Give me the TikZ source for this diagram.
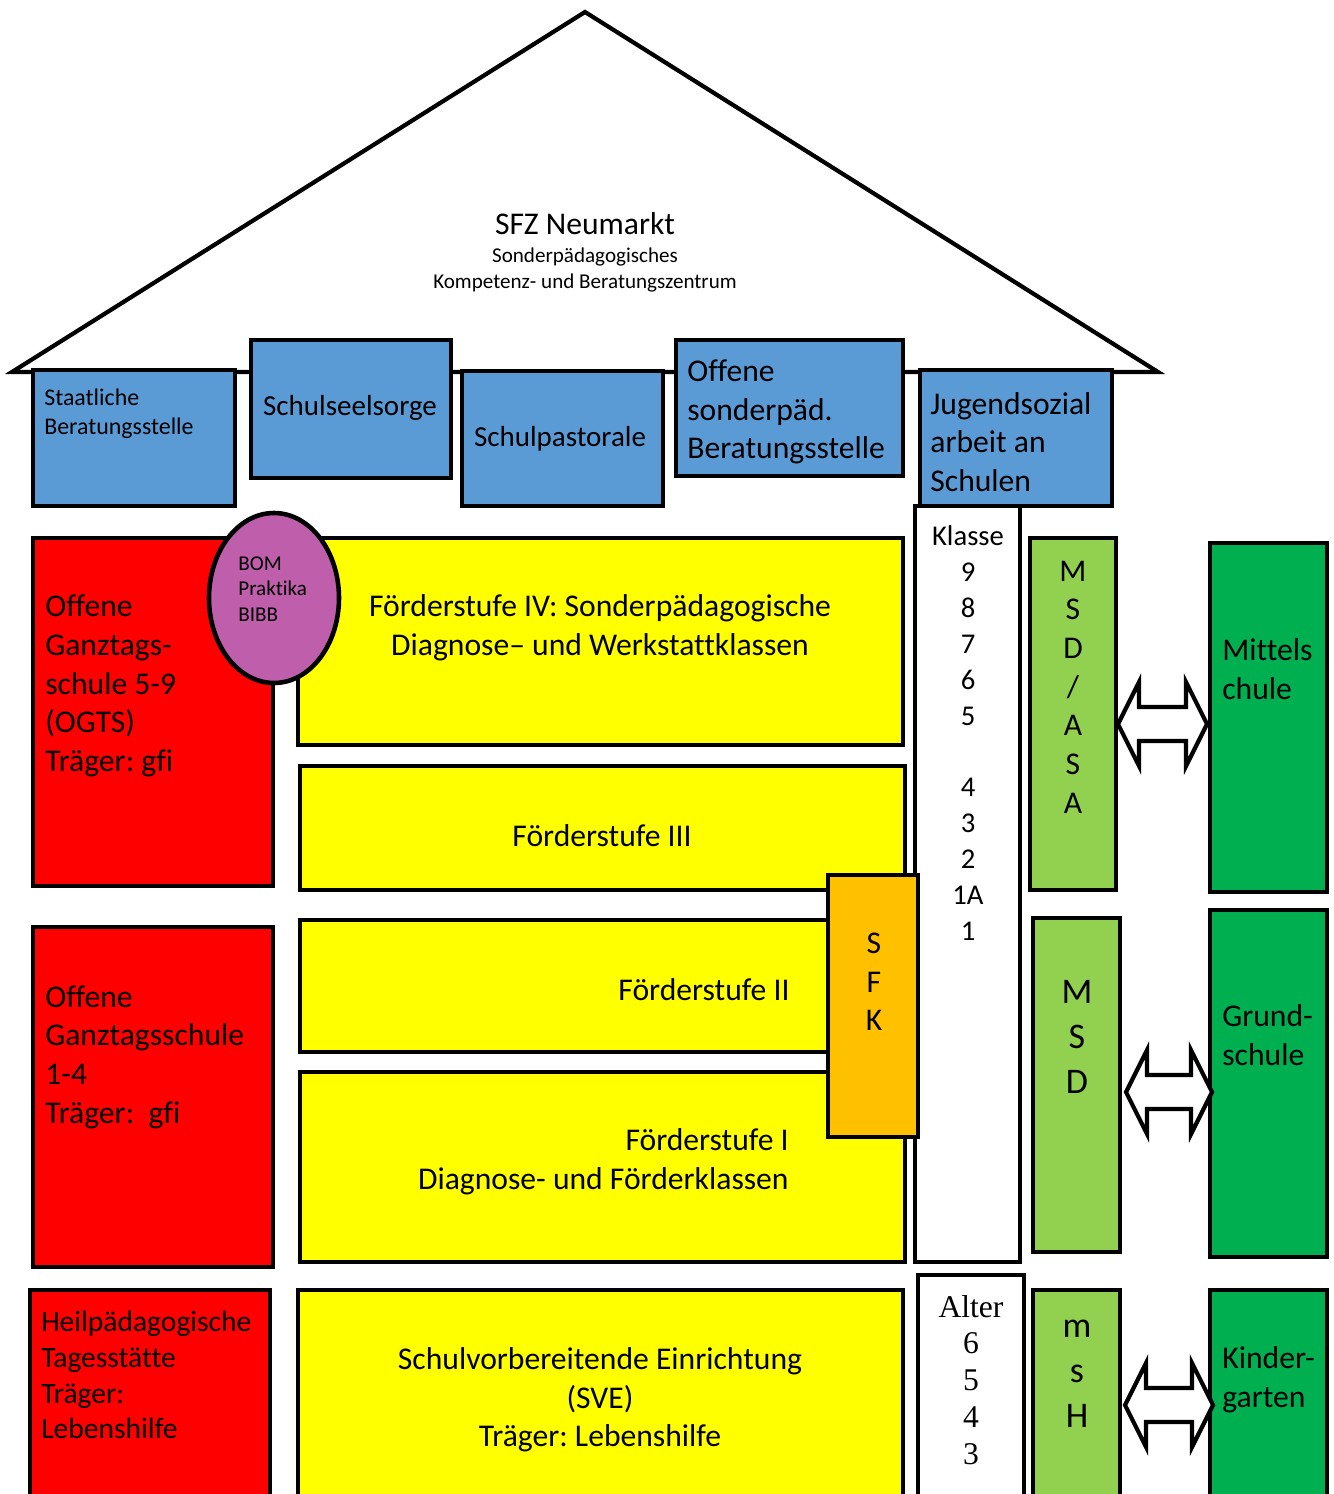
\documentclass[tikz,border=0pt]{standalone}
\usepackage{fontspec}
\setmainfont{Carlito}[Ligatures={TeX,NoCommon}]
\newfontfamily\timesfont{Liberation Serif}
\usepackage{xcolor}
\usepackage{tikz}
\usetikzlibrary{positioning}
\usetikzlibrary{shapes.geometric,calc}

\definecolor{boxblue}{RGB}{91,155,213}
\definecolor{boxred}{RGB}{255,0,0}
\definecolor{boxyellow}{RGB}{255,255,0}
\definecolor{sfkorange}{RGB}{255,192,0}
\definecolor{msdgreen}{RGB}{146,208,80}
\definecolor{schoolgreen}{RGB}{0,176,80}
\definecolor{bompink}{RGB}{191,95,172}

\newcommand{\fsz}[2]{\fontsize{#1}{#2}\selectfont}
\newcommand{\dblarrow}[2]{%
  \draw[arr] (#1) -- ($(#1)+(21,-42)$) -- ($(#1)+(21,-17)$) -- ($(#2)+(-21,-17)$)
    -- ($(#2)+(-21,-42)$) -- (#2) -- ($(#2)+(-21,42)$) -- ($(#2)+(-21,17)$)
    -- ($(#1)+(21,17)$) -- ($(#1)+(21,42)$) -- cycle;}

\begin{document}
\frenchspacing
\begin{tikzpicture}
    [x=0.02cm, y=-0.02cm,
     box/.style = {draw, line width=2.6pt, inner sep=0pt},
     wh/.style 2 args = {minimum width=#1*0.02cm, minimum height=#2*0.02cm},
     txt/.style = {inner sep=0pt, align=left, anchor=west},
     mid/.style = {inner sep=0pt, align=center},
     arr/.style = {fill=white, line width=2.4pt}]

    \clip (0,0) rectangle (1333,1494);

    % roof
    \coordinate (eaveleft) at (12,372);
    \coordinate (peak) at (585,12);
    \coordinate (eaveright) at (1158,372);
    \draw[line width=2.4pt] (eaveleft) -- (peak) -- (eaveright) -- cycle;
    \node[mid, font=\fsz{18}{22}] (sfz) at (585,224) {SFZ Neumarkt};
    \node[mid, font=\fsz{12}{14.7}] (sfzsub) at (585,270) {Sonderpädagogisches\\Kompetenz- und Beratungszentrum};

    % services under the roof
    \node[box, fill=boxblue, wh={202}{136}] (stb) at (134,438) {};
    \node[txt, font=\fsz{13.6}{16.4}] (stbtxt) at (44,414) {Staatliche\\Beratungsstelle};
    \node[box, fill=boxblue, wh={200}{138}] (sseel) at (351,409) {};
    \node[mid, font=\fsz{16.5}{20}] (sseeltxt) at (350,408) {Schulseelsorge};
    \node[box, fill=boxblue, wh={201}{135}] (spast) at (562.5,438.5) {};
    \node[mid, font=\fsz{16.5}{20}] (spasttxt) at (560,439) {Schulpastorale};
    \node[box, fill=boxblue, wh={227}{136}] (osb) at (789.5,408) {};
    \node[txt, font=\fsz{18}{22}] (osbtxt) at (687,412) {Offene\\sonderpäd.\\Beratungsstelle};
    \node[box, fill=boxblue, wh={192}{136}] (jas) at (1016,438) {};
    \node[txt, font=\fsz{18}{22}] (jastxt) at (930,442) {Jugendsozial\\arbeit an\\Schulen};

    % Ganztag
    \node[box, fill=boxred, wh={240}{348}] (ogts) at (153,712) {};
    \node[txt, font=\fsz{18}{22}] (ogtstxt) at (45,686) {Offene\\Ganztags-\\schule 5-9\\(OGTS)\\Träger: gfi};
    \node[box, fill=boxred, wh={240}{340}] (ogs) at (153,1097) {};
    \node[txt, font=\fsz{18}{22}] (ogstxt) at (45,1057) {Offene\\Ganztagsschule\\1-4\\Träger:\ \ gfi};
    \node[box, fill=boxred, wh={240}{240}] (hpt) at (150,1410) {};
    \node[txt, font=\fsz{16.8}{20.4}] (hpttxt) at (41,1375) {Heilpädagogische\\Tagesstätte\\Träger:\\Lebenshilfe};

    % Förderstufen
    \node[box, fill=boxyellow, wh={605}{207}] (fs4) at (600.5,641.5) {};
    \node[mid, font=\fsz{18}{22}] (fs4txt) at (600,628) {Förderstufe IV: Sonderpädagogische\\Diagnose– und Werkstattklassen};
    \node[box, fill=boxyellow, wh={605}{124}] (fs3) at (602.5,828) {};
    \node[mid, font=\fsz{18}{22}] (fs3txt) at (602,836) {Förderstufe III};
    \node[box, fill=boxyellow, wh={605}{132}] (fs2) at (602.5,986) {};
    \node[mid, font=\fsz{18}{22}] (fs2txt) at (704,990) {Förderstufe II};
    \node[box, fill=boxyellow, wh={605}{190}] (fs1) at (602.5,1167) {};
    \node[inner sep=0pt, align=right, anchor=east, font=\fsz{18}{22}] (fs1txt) at (789,1162) {Förderstufe I\\Diagnose- und Förderklassen};
    \node[box, fill=boxyellow, wh={605}{240}] (sve) at (600.5,1410) {};
    \node[mid, font=\fsz{18}{22}] (svetxt) at (600,1400) {Schulvorbereitende Einrichtung\\(SVE)\\Träger: Lebenshilfe};

    \node[box, ellipse, fill=bompink, wh={130}{170}] (bom) at (274,598) {};
    \node[txt, font=\fsz{12}{14.7}] (bomtxt) at (238,589) {BOM\\Praktika\\BIBB};

    % Klassen und Alter
    \node[box, fill=white, wh={105}{756}] (klasse) at (967.5,884) {};
    \node[mid, font=\fsz{16.3}{20.4}] (klassetxt) at (968,733) {Klasse\\9\\8\\7\\6\\5\\~\\4\\3\\2\\1A\\1};
    \node[box, fill=sfkorange, wh={90}{262}] (sfk) at (873,1006) {};
    \node[mid, font=\fsz{18}{22}] (sfktxt) at (874,982) {S\\F\\K};
    \node[box, fill=white, wh={106}{250}] (alter) at (971,1400) {};
    \node[mid, font=\timesfont\fsz{18}{21}] (altertxt) at (971,1380) {Alter\\6\\5\\4\\3};

    % MSD
    \node[box, fill=msdgreen, wh={86}{352}] (msda) at (1073,714) {};
    \node[mid, font=\fsz{18}{22}] (msdatxt) at (1073,687) {M\\S\\D\\/\\A\\S\\A};
    \node[box, fill=msdgreen, wh={87}{334}] (msd) at (1076.5,1085) {};
    \node[mid, font=\fsz{20.5}{25.5}] (msdtxt) at (1077,1037) {M\\S\\D};
    \node[box, fill=msdgreen, wh={87}{240}] (msh) at (1076.5,1410) {};
    \node[mid, font=\fsz{20.5}{25.5}] (mshtxt) at (1077,1374) {m\\s\\H};

    % Schulen
    \node[box, fill=schoolgreen, wh={117}{349}] (ms) at (1268.5,717.5) {};
    \node[txt, font=\fsz{18}{22}] (mstxt) at (1222,669) {Mittels\\chule};
    \node[box, fill=schoolgreen, wh={117}{347}] (gs) at (1268.5,1083.5) {};
    \node[txt, font=\fsz{18}{22}] (gstxt) at (1222,1035) {Grund-\\schule};
    \node[box, fill=schoolgreen, wh={117}{240}] (kg) at (1268.5,1410) {};
    \node[txt, font=\fsz{18}{22}] (kgtxt) at (1222,1380) {Kinder-\\garten};

    \coordinate (a1l) at (1118,724);
    \coordinate (a1r) at (1207,724);
    \coordinate (a2l) at (1126,1092);
    \coordinate (a2r) at (1212,1092);
    \coordinate (a3l) at (1125,1405);
    \coordinate (a3r) at (1213,1405);
    \dblarrow{a1l}{a1r}
    \dblarrow{a2l}{a2r}
    \dblarrow{a3l}{a3r}
\end{tikzpicture}
\end{document}
